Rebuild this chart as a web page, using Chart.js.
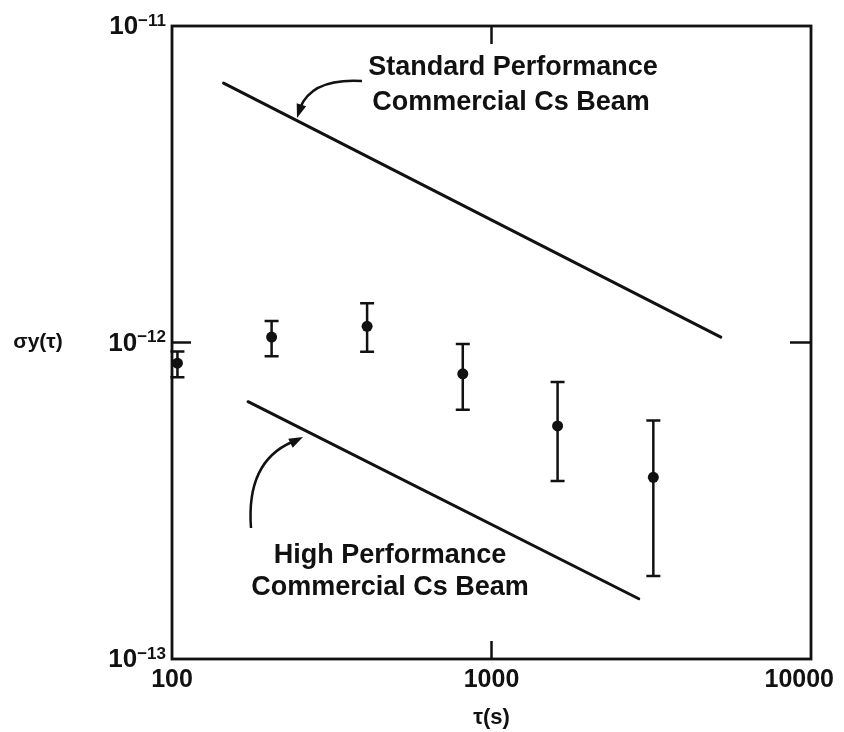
<!DOCTYPE html>
<html>
<head>
<meta charset="utf-8">
<script src="https://cdn.jsdelivr.net/npm/chart.js@4/dist/chart.umd.min.js"></script>
<style>
  html, body { margin: 0; padding: 0; background: #fff; }
  canvas { display: block; }
</style>
</head>
<body>
<canvas id="allanChart" width="844" height="732"></canvas>
<script>
// ── Data ─────────────────────────────────────────────────────────────────────
const tauValues   = [104, 205, 408, 813, 1610, 3210];
const sigmaValues = [0.86e-12, 1.04e-12, 1.125e-12, 0.796e-12, 0.545e-12, 0.375e-12];
const sigmaUpper  = [0.937e-12, 1.17e-12, 1.33e-12, 0.99e-12, 0.75e-12, 0.567e-12];
const sigmaLower  = [0.776e-12, 0.905e-12, 0.935e-12, 0.613e-12, 0.365e-12, 0.183e-12];

const standardTau   = [145, 5220];
const standardSigma = [6.6e-12, 1.04e-12];
const highTau       = [173, 2890];
const highSigma     = [0.65e-12, 0.155e-12];

const xTicks = [100, 1000, 10000];
const yTicks = [1e-11, 1e-12, 1e-13];
const yTickExp = ['−11', '−12', '−13'];

// ── Helpers ──────────────────────────────────────────────────────────────────
const FONT = "'Liberation Sans', Arial, Helvetica, sans-serif";
const INK  = '#111';

function toPoints(xs, ys) {
  return xs.map((x, i) => ({ x, y: ys[i] }));
}

function arrowHead(ctx, tipX, tipY, fromX, fromY) {
  const ang = Math.atan2(tipY - fromY, tipX - fromX);
  const len = 14, half = 5;
  ctx.beginPath();
  ctx.moveTo(tipX, tipY);
  ctx.lineTo(tipX - len * Math.cos(ang) + half * Math.sin(ang),
             tipY - len * Math.sin(ang) - half * Math.cos(ang));
  ctx.lineTo(tipX - len * Math.cos(ang) - half * Math.sin(ang),
             tipY - len * Math.sin(ang) + half * Math.cos(ang));
  ctx.closePath();
  ctx.fill();
}

// ── Error bars (drawn under the points) ──────────────────────────────────────
const errorBars = {
  id: 'errorBars',
  beforeDatasetsDraw(chart) {
    const { ctx, scales: { x, y } } = chart;
    ctx.save();
    ctx.strokeStyle = INK;
    ctx.lineWidth   = 2.5;
    tauValues.forEach((t, i) => {
      const px  = x.getPixelForValue(t);
      const top = y.getPixelForValue(sigmaUpper[i]);
      const bot = y.getPixelForValue(sigmaLower[i]);
      ctx.beginPath();
      ctx.moveTo(px, top); ctx.lineTo(px, bot);
      ctx.moveTo(px - 7, top); ctx.lineTo(px + 7, top);
      ctx.moveTo(px - 7, bot); ctx.lineTo(px + 7, bot);
      ctx.stroke();
    });
    ctx.restore();
  },
};

// ── Frame, ticks, labels, annotations ────────────────────────────────────────
const frameAndText = {
  id: 'frameAndText',
  afterDraw(chart) {
    const { ctx, chartArea: a, scales: { x, y } } = chart;
    ctx.save();
    ctx.strokeStyle = INK;
    ctx.fillStyle   = INK;

    // box
    ctx.lineWidth = 2.8;
    ctx.strokeRect(a.left, a.top, a.right - a.left, a.bottom - a.top);

    // inward ticks at the middle decades
    ctx.lineWidth = 2.5;
    ctx.beginPath();
    const mx = x.getPixelForValue(1000);
    ctx.moveTo(mx, a.top);    ctx.lineTo(mx, a.top + 18);
    ctx.moveTo(mx, a.bottom); ctx.lineTo(mx, a.bottom - 18);
    const my = y.getPixelForValue(1e-12);
    ctx.moveTo(a.left, my);  ctx.lineTo(a.left + 19, my);
    ctx.moveTo(a.right, my); ctx.lineTo(a.right - 21, my);
    ctx.stroke();

    // x tick labels (last one pulled in so it stays on the page)
    ctx.font = `bold 25px ${FONT}`;
    ctx.textBaseline = 'middle';
    xTicks.forEach((v, i) => {
      const px = x.getPixelForValue(v);
      const last = i === xTicks.length - 1;
      ctx.textAlign = last ? 'right' : 'center';
      ctx.fillText(String(v), last ? 834 : px, a.bottom + 21);
    });

    // y tick labels 10^n
    yTicks.forEach((v, i) => {
      const py = y.getPixelForValue(v);
      ctx.font = `bold 26px ${FONT}`;
      const wBase = ctx.measureText('10').width;
      ctx.font = `bold 17px ${FONT}`;
      const wExp = ctx.measureText(yTickExp[i]).width;
      const right = 166;
      ctx.textAlign = 'left';
      ctx.textBaseline = 'middle';
      ctx.font = `bold 26px ${FONT}`;
      ctx.fillText('10', right - wExp - wBase, py + 1);
      ctx.font = `bold 17px ${FONT}`;
      ctx.fillText(yTickExp[i], right - wExp, py - 5);
    });

    // axis titles
    ctx.textAlign = 'center';
    ctx.font = `bold 22px ${FONT}`;
    ctx.fillText('τ(s)', (a.left + a.right) / 2, 718);
    ctx.font = `bold 21px ${FONT}`;
    ctx.fillText('σy(τ)', 38, y.getPixelForValue(1e-12));

    // annotation labels
    ctx.font = `bold 27px ${FONT}`;
    ctx.fillText('Standard Performance', 513, 68);
    ctx.fillText('Commercial Cs Beam', 511, 103);
    ctx.fillText('High Performance', 390, 556);
    ctx.fillText('Commercial Cs Beam', 390, 588);

    // curved arrows
    ctx.lineWidth = 2.5;
    ctx.beginPath();
    ctx.moveTo(362, 81);
    ctx.quadraticCurveTo(312, 78, 300, 108);
    ctx.stroke();
    arrowHead(ctx, 297, 118, 303, 100);

    ctx.beginPath();
    ctx.moveTo(251, 528);
    ctx.quadraticCurveTo(246, 462, 292, 442);
    ctx.stroke();
    arrowHead(ctx, 303, 437, 285, 446);

    ctx.restore();
  },
};

// ── Chart ────────────────────────────────────────────────────────────────────
const ctx = document.getElementById('allanChart').getContext('2d');

new Chart(ctx, {
  type: 'scatter',
  data: {
    datasets: [
      {
        label: 'Measured',
        data: toPoints(tauValues, sigmaValues),
        backgroundColor: INK,
        borderWidth: 0,
        pointRadius: 5.5,
      },
      {
        label: 'Standard Performance Commercial Cs Beam',
        data: toPoints(standardTau, standardSigma),
        showLine: true,
        borderColor: INK,
        borderWidth: 3,
        borderCapStyle: 'round',
        pointRadius: 0,
      },
      {
        label: 'High Performance Commercial Cs Beam',
        data: toPoints(highTau, highSigma),
        showLine: true,
        borderColor: INK,
        borderWidth: 3,
        borderCapStyle: 'round',
        pointRadius: 0,
      },
    ],
  },
  options: {
    responsive: false,
    animation: false,
    devicePixelRatio: 1,
    layout: { padding: { left: 172, right: 33, top: 26, bottom: 73 } },
    scales: {
      x: { type: 'logarithmic', min: 100, max: 10000, display: false },
      y: { type: 'logarithmic', min: 1e-13, max: 1e-11, display: false },
    },
    plugins: {
      legend:  { display: false },
      tooltip: { enabled: false },
    },
  },
  plugins: [errorBars, frameAndText],
});
</script>
</body>
</html>
